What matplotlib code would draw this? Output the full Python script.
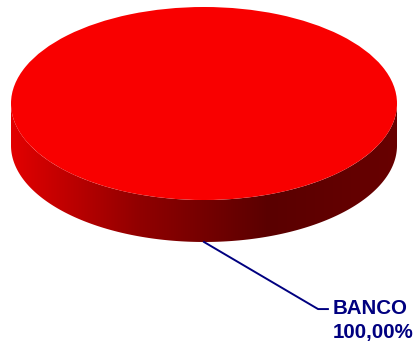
import numpy as np
import matplotlib.pyplot as plt
from matplotlib.patches import Polygon
from matplotlib.colors import LinearSegmentedColormap

# data
categorias = ["BANCO"]
valores = [100.0]
cores = ["#f90000"]

fig = plt.figure(figsize=(4.17, 3.44), dpi=100)
ax = fig.add_axes([0, 0, 1, 1])

# top of the pie (squashed circle)
wedges, _ = ax.pie(valores, colors=cores, startangle=270, counterclock=True,
                   wedgeprops=dict(linewidth=0), radius=1.0)
ax.set_aspect("auto")
ax.set_xlim(-1.057, 1.1036)
ax.set_ylim(-2.492, 1.0725)
ax.axis("off")

# side wall with a left-to-right shade
prof = 0.435
t = np.linspace(np.pi, 2 * np.pi, 200)
xs = np.cos(t)
ys = np.sin(t)
pts = np.concatenate([np.column_stack([xs, ys]),
                      np.column_stack([xs[::-1], ys[::-1] - prof])])
lado = Polygon(pts, closed=True, facecolor="none", edgecolor="none")
ax.add_patch(lado)
cmap = LinearSegmentedColormap.from_list("lado", ["#e20000", "#900000", "#5a0000", "#680000"])
grad = np.linspace(0, 1, 256).reshape(1, -1)
img = ax.imshow(grad, cmap=cmap, extent=(-1, 1, -1 - prof, 0), aspect="auto", zorder=0)
img.set_clip_path(lado)
for w in wedges:
    w.set_zorder(2)

# leader line and label
total = sum(valores)
for cat, v in zip(categorias, valores):
    pct = v / total * 100
    x0, y0 = 0.0, -1 - prof
    ax.plot([x0, 0.591, 0.642], [y0, -2.13, -2.13], color="#000080", lw=1.4, zorder=3)
    rotulo = f"{cat}\n{pct:.2f}%".replace(".", ",")
    ax.text(0.668, -2.25, rotulo, ha="left", va="center", color="#000080",
            fontsize=14.8, fontweight="bold", family="Liberation Sans", linespacing=1.3)

fig.savefig("out.png", dpi=100)
